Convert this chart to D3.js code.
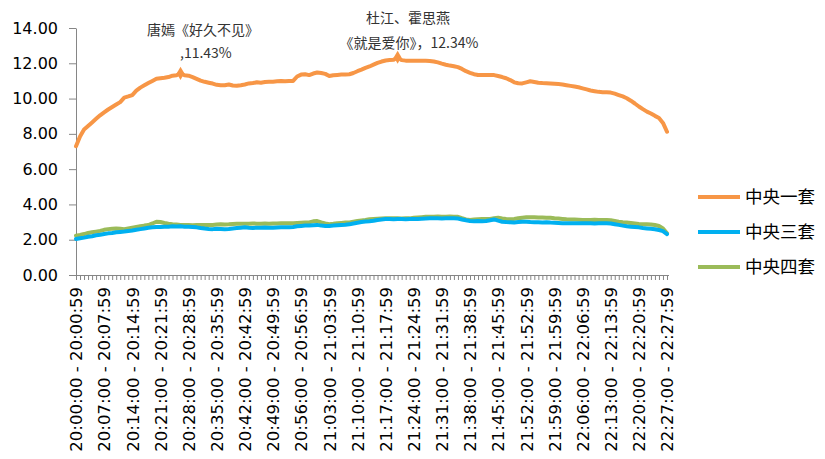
<!DOCTYPE html>
<html><head><meta charset="utf-8">
<script src="https://cdn.jsdelivr.net/npm/d3@7"></script>
<style>body{margin:0;background:#fff}svg{display:block}</style>
</head><body><svg id="c" width="825" height="459"></svg>
<script>
const seriesNames = ["中央一套","中央三套","中央四套"];
const colors = ["#F79646","#00B0F0","#9BBB59"];
const yTicks = [0,2,4,6,8,10,12,14];
const cctv1 = [
7.30,7.85,8.25,8.45,8.65,8.85,9.05,9.22,9.38,9.52,
9.66,9.80,10.05,10.12,10.20,10.45,10.62,10.75,10.88,11.00,
11.12,11.15,11.18,11.22,11.30,11.32,11.43,11.32,11.30,11.22,
11.12,11.02,10.95,10.90,10.85,10.78,10.75,10.76,10.80,10.74,
10.73,10.76,10.80,10.86,10.88,10.92,10.90,10.94,10.95,10.96,
10.98,11.00,10.98,11.00,11.00,11.25,11.36,11.38,11.33,11.42,
11.48,11.45,11.40,11.28,11.32,11.34,11.36,11.37,11.38,11.45,
11.55,11.64,11.74,11.82,11.92,12.02,12.10,12.16,12.18,12.20,
12.34,12.18,12.15,12.15,12.14,12.15,12.15,12.14,12.13,12.10,
12.05,11.98,11.92,11.87,11.83,11.78,11.68,11.55,11.46,11.38,
11.34,11.34,11.33,11.34,11.33,11.28,11.22,11.15,11.05,10.92,
10.87,10.86,10.92,10.98,10.94,10.90,10.88,10.87,10.86,10.84,
10.82,10.80,10.76,10.72,10.68,10.64,10.58,10.52,10.46,10.42,
10.38,10.36,10.36,10.34,10.28,10.20,10.12,10.02,9.88,9.72,
9.55,9.40,9.26,9.15,9.02,8.90,8.62,8.12];
const cctv3 = [
2.04,2.08,2.12,2.17,2.20,2.25,2.28,2.32,2.36,2.38,
2.42,2.44,2.46,2.49,2.52,2.56,2.60,2.64,2.68,2.70,
2.72,2.72,2.74,2.74,2.76,2.75,2.76,2.74,2.74,2.72,
2.70,2.66,2.63,2.61,2.60,2.62,2.61,2.60,2.61,2.64,
2.66,2.68,2.70,2.68,2.67,2.68,2.68,2.69,2.68,2.68,
2.69,2.70,2.70,2.70,2.72,2.76,2.78,2.80,2.80,2.82,
2.84,2.80,2.78,2.78,2.80,2.82,2.84,2.85,2.87,2.92,
2.96,3.00,3.03,3.05,3.08,3.12,3.15,3.17,3.17,3.16,
3.18,3.17,3.16,3.17,3.18,3.18,3.19,3.20,3.21,3.21,
3.21,3.20,3.21,3.21,3.21,3.20,3.15,3.10,3.06,3.05,
3.06,3.05,3.06,3.10,3.15,3.08,3.02,3.00,2.99,2.98,
3.00,3.02,3.02,3.00,2.99,2.99,2.98,2.99,2.97,2.96,
2.95,2.94,2.93,2.94,2.93,2.93,2.93,2.93,2.93,2.92,
2.93,2.93,2.93,2.92,2.88,2.84,2.80,2.76,2.74,2.72,
2.70,2.66,2.64,2.62,2.59,2.55,2.49,2.32];
const cctv4 = [
2.23,2.27,2.32,2.38,2.42,2.46,2.50,2.56,2.60,2.62,
2.63,2.62,2.60,2.64,2.68,2.72,2.76,2.80,2.83,2.92,
3.02,3.00,2.95,2.91,2.88,2.86,2.84,2.83,2.83,2.82,
2.83,2.84,2.83,2.83,2.84,2.86,2.87,2.86,2.87,2.89,
2.90,2.91,2.90,2.91,2.92,2.91,2.91,2.92,2.91,2.92,
2.92,2.93,2.93,2.93,2.94,2.95,2.96,2.97,2.98,3.04,
3.06,2.98,2.92,2.88,2.90,2.93,2.95,2.97,2.98,3.02,
3.06,3.09,3.12,3.16,3.18,3.19,3.20,3.21,3.21,3.22,
3.21,3.20,3.21,3.21,3.24,3.26,3.28,3.30,3.30,3.30,
3.31,3.30,3.30,3.31,3.30,3.30,3.22,3.15,3.12,3.14,
3.16,3.17,3.17,3.18,3.22,3.25,3.20,3.17,3.16,3.18,
3.22,3.25,3.27,3.27,3.27,3.26,3.26,3.25,3.25,3.22,
3.20,3.18,3.16,3.15,3.14,3.13,3.12,3.12,3.12,3.13,
3.12,3.12,3.12,3.10,3.06,3.02,2.99,2.97,2.95,2.92,
2.89,2.88,2.87,2.86,2.83,2.78,2.64,2.36];
const peakIndex = [26, 80];
const peakLines = [["唐嫣《好久不见》", ",11.43%"], ["杜江、霍思燕", "《就是爱你》，12.34%"]];

// categories: one per minute 20:00 .. 22:27
const pad = n => String(n).padStart(2,"0");
const categories = d3.range(148).map(i => {
  const h = 20 + Math.floor(i/60), m = i % 60;
  return `${h}:${pad(m)}:00 - ${h}:${pad(m)}:59`;
});

const svg = d3.select("#c");
const x = d3.scalePoint().domain(categories).range([76, 667]);
const y = d3.scaleLinear().domain([0,14]).range([275, 28]);

// y axis
const ya = svg.append("g").attr("transform","translate(76,0)")
  .call(d3.axisLeft(y).tickValues(yTicks).tickFormat(d3.format(".2f")).tickSize(7).tickSizeOuter(0));
ya.select(".domain").attr("stroke","#868686");
ya.selectAll(".tick line").attr("stroke","#868686");
ya.selectAll(".tick text").attr("font-family","DejaVu Sans").attr("font-size","16px").attr("fill","#000").attr("x",-18);

// x axis
const xa = svg.append("g").attr("transform","translate(0,275)")
  .call(d3.axisBottom(x).tickSize(5).tickSizeOuter(0)
    .tickFormat((d,i) => i % 7 === 0 ? d : ""));
xa.select(".domain").attr("stroke","#868686").attr("d","M76,0.5H669");
xa.selectAll(".tick line").attr("stroke","#868686");
xa.selectAll(".tick text")
  .attr("font-family","DejaVu Sans").attr("font-size","16.5px").attr("fill","#000")
  .attr("transform","rotate(-90)").attr("text-anchor","end")
  .attr("x",-12).attr("y",0).attr("dy","0.35em");

const series = [cctv1, cctv3, cctv4];
const line = d3.line().x((d,i) => x(categories[i])).y(d => y(d));
[2,1,0].forEach(k => {
  svg.append("path").datum(series[k]).attr("d", line)
    .attr("fill","none").attr("stroke",colors[k]).attr("stroke-width",4)
    .attr("stroke-linejoin","round").attr("stroke-linecap","round");
});

// peak markers
const diamond = d3.symbol().type(d3.symbolDiamond).size(50);
peakIndex.forEach(i => {
  svg.append("path").attr("d", diamond)
    .attr("transform",`translate(${x(categories[i])},${y(cctv1[i])})`)
    .attr("fill",colors[0]);
});

// annotations
const ann = svg.append("g").attr("font-family","Noto Sans CJK SC").attr("font-size","14px").attr("fill","#333");
ann.append("text").attr("x",203).attr("y",35).attr("text-anchor","middle").text(peakLines[0][0]);
ann.append("text").attr("x",180).attr("y",58).attr("text-anchor","start").text(peakLines[0][1]);
ann.append("text").attr("x",408).attr("y",23).attr("text-anchor","middle").text(peakLines[1][0]);
ann.append("text").attr("x",409).attr("y",48).attr("text-anchor","middle").text(peakLines[1][1]);

// legend
const lg = svg.append("g");
seriesNames.forEach((n,k) => {
  const yy = 197 + k*35;
  lg.append("line").attr("x1",698).attr("x2",740).attr("y1",yy).attr("y2",yy)
    .attr("stroke",colors[k]).attr("stroke-width",4);
  lg.append("text").attr("x",745).attr("y",yy).attr("dy","0.36em")
    .attr("font-family","Noto Sans CJK SC").attr("font-size","17.5px").attr("fill","#000").text(n);
});
</script></body></html>
